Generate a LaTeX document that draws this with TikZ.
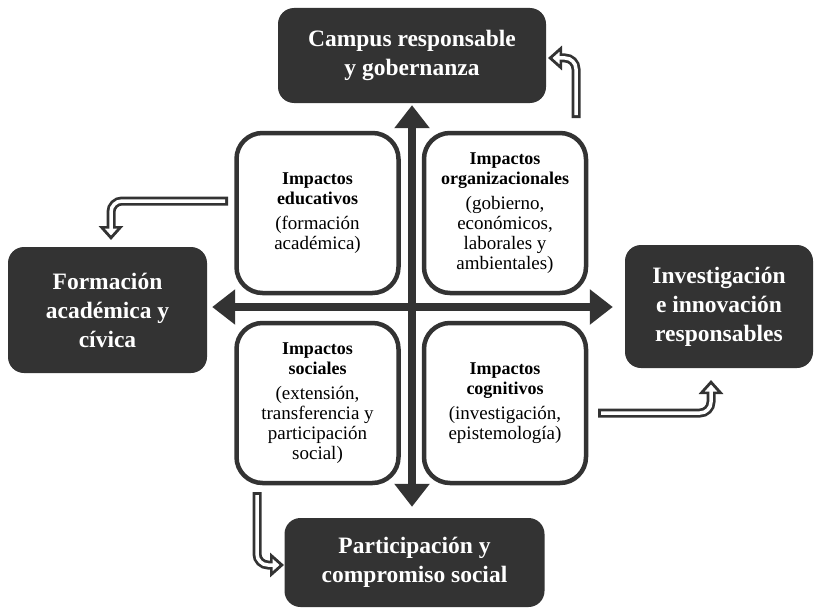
\documentclass[tikz,border=0pt]{standalone}
\usepackage{fontspec}
\setmainfont{Liberation Serif}
\usetikzlibrary{arrows.meta,positioning}
\definecolor{dark}{HTML}{333333}
\newcommand{\imphead}[1]{{\fontsize{18}{20}\selectfont\bfseries #1}}

\begin{document}
\begin{tikzpicture}[x=1pt,y=-1pt,
  area/.style={fill=dark,text=white,rounded corners=16pt,align=center,
    font=\fontsize{23.5}{29}\selectfont\bfseries},
  impact/.style={draw=dark,line width=4.5pt,rounded corners=26pt,align=center,
    minimum width=162pt,minimum height=160pt,font=\fontsize{19}{20}\selectfont},
  cross/.style={draw=dark,line width=8pt,
    {Triangle[width=34pt,length=23pt]}-{Triangle[width=34pt,length=23pt]}},
  rim/.style={draw=dark,line width=9pt,rounded corners=11pt,
    -{Triangle[width=24pt,length=14pt]}},
  core/.style={draw=white,line width=3.5pt,rounded corners=11pt,
    shorten <=3pt,shorten >=4.5pt,-{Triangle[width=12pt,length=7pt]}}
]
\useasboundingbox (0,0) rectangle (817,610);

% outer areas
\node [area, minimum width=268pt, minimum height=95pt] (campus) at (412,55.5) {Campus responsable\\y gobernanza};
\node [area, minimum width=199pt, minimum height=126pt] (formacion) at (107.5,310) {Formación\\académica y\\cívica};
\node [area, minimum width=188pt, minimum height=123pt] (investig) at (719,306.5) {Investigación\\e innovación\\responsables};
\node [area, minimum width=260pt, minimum height=89pt] (particip) at (414.5,562.5) {Participación y\\compromiso social};

% impacts
\node [impact] (educ) at (317.5,213) {\imphead{Impactos}\\\imphead{educativos}\\[5pt](formación\\académica)};
\node [impact] (organ) at (505,213) {\imphead{Impactos}\\\imphead{organizacionales}\\[5pt](gobierno,\\económicos,\\laborales y\\ambientales)};
\node [impact] (social) at (317.5,403) {\imphead{Impactos}\\\imphead{sociales}\\[5pt](extensión,\\transferencia y\\participación\\social)};
\node [impact] (cogn) at (505,403) {\imphead{Impactos}\\\imphead{cognitivos}\\[5pt](investigación,\\epistemología)};

% cross
\coordinate (mid) at (412,307);
\draw [cross, shorten <=2pt, shorten >=11pt] (campus.south) -- (campus.south |- particip.north);
\draw [cross, shorten <=5pt, shorten >=12pt] (formacion.east |- mid) -- (investig.west |- mid);

% hollow arrows
\coordinate (tr0) at (576,118);
\coordinate (tr1) at (548,58);
\coordinate (tl0) at (228,201);
\coordinate (tl1) at (111,240);
\coordinate (bl0) at (257,492);
\coordinate (bl1) at (284,565);
\coordinate (br0) at (598,413);
\coordinate (br1) at (711,380);

\draw [rim] (tr0) |- (tr1);
\draw [core] (tr0) |- (tr1);
\draw [rim] (tl0) -| (tl1);
\draw [core] (tl0) -| (tl1);
\draw [rim] (bl0) |- (bl1);
\draw [core] (bl0) |- (bl1);
\draw [rim] (br0) -| (br1);
\draw [core] (br0) -| (br1);
\end{tikzpicture}
\end{document}
